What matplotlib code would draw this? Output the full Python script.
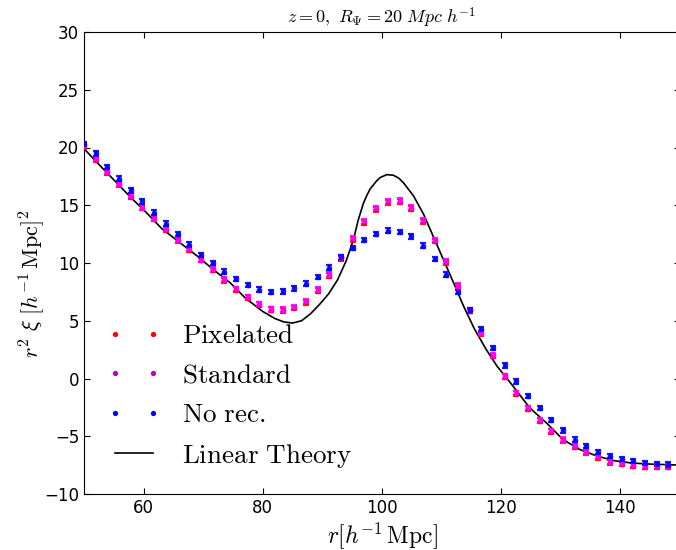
"""Reconstructed-correlation BAO figure: r^2 xi(r) for three reconstructions."""

import matplotlib

matplotlib.use("Agg")
import matplotlib.pyplot as plt
from matplotlib.lines import Line2D

# separation bins [h^-1 Mpc]
r = [50.0, 51.96, 53.92, 55.88, 57.84, 59.80, 61.76, 63.73, 65.69, 67.65,
     69.61, 71.57, 73.53, 75.49, 77.45, 79.41, 81.37, 83.33, 85.29, 87.25,
     89.22, 91.18, 93.14, 95.10, 97.06, 99.02, 100.98, 102.94, 104.90, 106.86,
     108.82, 110.78, 112.75, 114.71, 116.67, 118.63, 120.59, 122.55, 124.51, 126.47,
     128.43, 130.39, 132.35, 134.31, 136.27, 138.24, 140.20, 142.16, 144.12, 146.08,
     148.04, 150.0]

pixelated = [20.1, 18.95, 17.85, 16.8, 15.75, 14.75, 13.8, 12.9, 11.95, 11.15,
             10.25, 9.4, 8.5, 7.7, 7.0, 6.4, 5.95, 5.9, 6.1, 6.6,
             7.6, 8.9, 10.4, 12.05, 13.5, 14.65, 15.25, 15.3, 14.7, 13.6,
             11.9, 10.05, 7.95, 5.85, 3.9, 1.95, 0.15, -1.3, -2.6, -3.65,
             -4.6, -5.35, -5.9, -6.4, -6.85, -7.25, -7.4, -7.55, -7.65, -7.65,
             -7.65, -7.65]

standard = [20.2, 19.0, 17.9, 16.85, 15.8, 14.8, 13.85, 12.95, 12.0, 11.2,
            10.3, 9.45, 8.55, 7.75, 7.05, 6.45, 6.0, 5.95, 6.2, 6.7,
            7.7, 9.0, 10.5, 12.15, 13.6, 14.75, 15.35, 15.4, 14.8, 13.7,
            12.0, 10.15, 8.05, 5.9, 3.95, 2.0, 0.2, -1.25, -2.55, -3.6,
            -4.55, -5.3, -5.85, -6.35, -6.8, -7.2, -7.35, -7.5, -7.6, -7.6,
            -7.6, -7.6]

no_rec = [20.3, 19.5, 18.3, 17.3, 16.3, 15.35, 14.35, 13.4, 12.5, 11.6,
          10.7, 10.0, 9.25, 8.6, 8.1, 7.7, 7.5, 7.55, 7.8, 8.2,
          8.8, 9.6, 10.5, 11.3, 12.0, 12.5, 12.8, 12.7, 12.3, 11.5,
          10.35, 9.0, 7.5, 5.9, 4.25, 2.65, 1.15, -0.25, -1.5, -2.55,
          -3.6, -4.5, -5.3, -5.85, -6.35, -6.7, -7.0, -7.15, -7.3, -7.4,
          -7.45, -7.5]

err_pixelated = 0.2
err_standard = 0.2
err_no_rec = 0.2

# linear theory curve
r_lin = [50.0, 52.0, 55.0, 58.0, 60.5, 63.0, 66.0, 69.0, 72.0, 74.5,
         77.0, 80.0, 82.0, 83.5, 85.0, 86.5, 88.0, 89.5, 91.0, 92.5,
         94.0, 95.2, 96.0, 96.9, 97.5, 98.0, 99.0, 99.7, 100.8, 101.9,
         102.8, 103.6, 105.3, 107.0, 108.6, 110.3, 112.0, 113.7, 115.5, 117.5,
         119.3, 122.0, 124.8, 127.6, 130.4, 133.2, 136.0, 138.8, 141.6, 144.4,
         150.0]
xi_lin = [19.9, 18.8, 17.2, 15.6, 14.35, 13.0, 11.8, 10.6, 9.3, 8.3,
          7.0, 5.8, 5.2, 4.9, 4.8, 5.0, 5.6, 6.4, 7.3, 8.5,
          10.2, 12.0, 13.7, 15.2, 15.9, 16.4, 17.05, 17.4, 17.65, 17.6,
          17.35, 16.95, 15.8, 14.2, 12.3, 10.3, 8.3, 6.25, 4.3, 2.5,
          1.07, -0.67, -2.55, -3.85, -5.3, -6.15, -6.7, -7.1, -7.3, -7.4,
          -7.5]

plt.rcParams["mathtext.fontset"] = "cm"
plt.rcParams["font.family"] = "DejaVu Sans"

fig = plt.figure(figsize=(6.76, 5.5), dpi=100)
ax = fig.add_axes([84 / 676, 1 - 494 / 550, (680 - 84) / 676, (494 - 32) / 550])

series = [
    (pixelated, err_pixelated, "red"),
    (standard, err_standard, "#ff00ff"),
    (no_rec, err_no_rec, "blue"),
]
for values, err, color in series:
    ax.errorbar(r, values, yerr=err, fmt="o", color=color, ms=4.0, mec="none",
                elinewidth=1.6, capsize=2.3, capthick=1.6, ecolor=color, alpha=0.9,
                zorder=3)

ax.plot(r_lin, xi_lin, color="black", lw=1.2, zorder=2)

ax.set_xlim(50, 150)
ax.set_ylim(-10, 30)
ax.set_xticks([60, 80, 100, 120, 140])
ax.set_yticks([-10, -5, 0, 5, 10, 15, 20, 25, 30])
ax.tick_params(direction="in", top=True, right=True, length=4, labelsize=12)
ax.set_xlabel(r"$r[h^{-1}\,\mathrm{Mpc}]$", fontsize=17, labelpad=2)
ax.set_ylabel(r"$r^2\ \xi\ [h^{-1}\,\mathrm{Mpc}]^2$", fontsize=16)
ax.yaxis.set_label_coords(-0.062, 0.455)
ax.set_title(r"$z=0,\ R_\Psi=20\ Mpc\ h^{-1}$", fontsize=13, pad=6)

handles = [
    Line2D([], [], marker="o", ls="", color="red", ms=3.8, mec="none"),
    Line2D([], [], marker="o", ls="", color="#bf00bf", ms=3.8, mec="none"),
    Line2D([], [], marker="o", ls="", color="blue", ms=3.8, mec="none"),
    Line2D([], [], color="black", lw=1.2),
]
labels = [r"$\mathrm{Pixelated}$", r"$\mathrm{Standard}$", r"$\mathrm{No\ rec.}$",
          r"$\mathrm{Linear\ Theory}$"]
ax.legend(handles, labels, loc="lower left", bbox_to_anchor=(-0.003, 0.0),
          frameon=False, numpoints=2, fontsize=19.5, handlelength=2.0,
          handletextpad=0.8, labelspacing=0.5)

fig.savefig("out.png", dpi=100)
